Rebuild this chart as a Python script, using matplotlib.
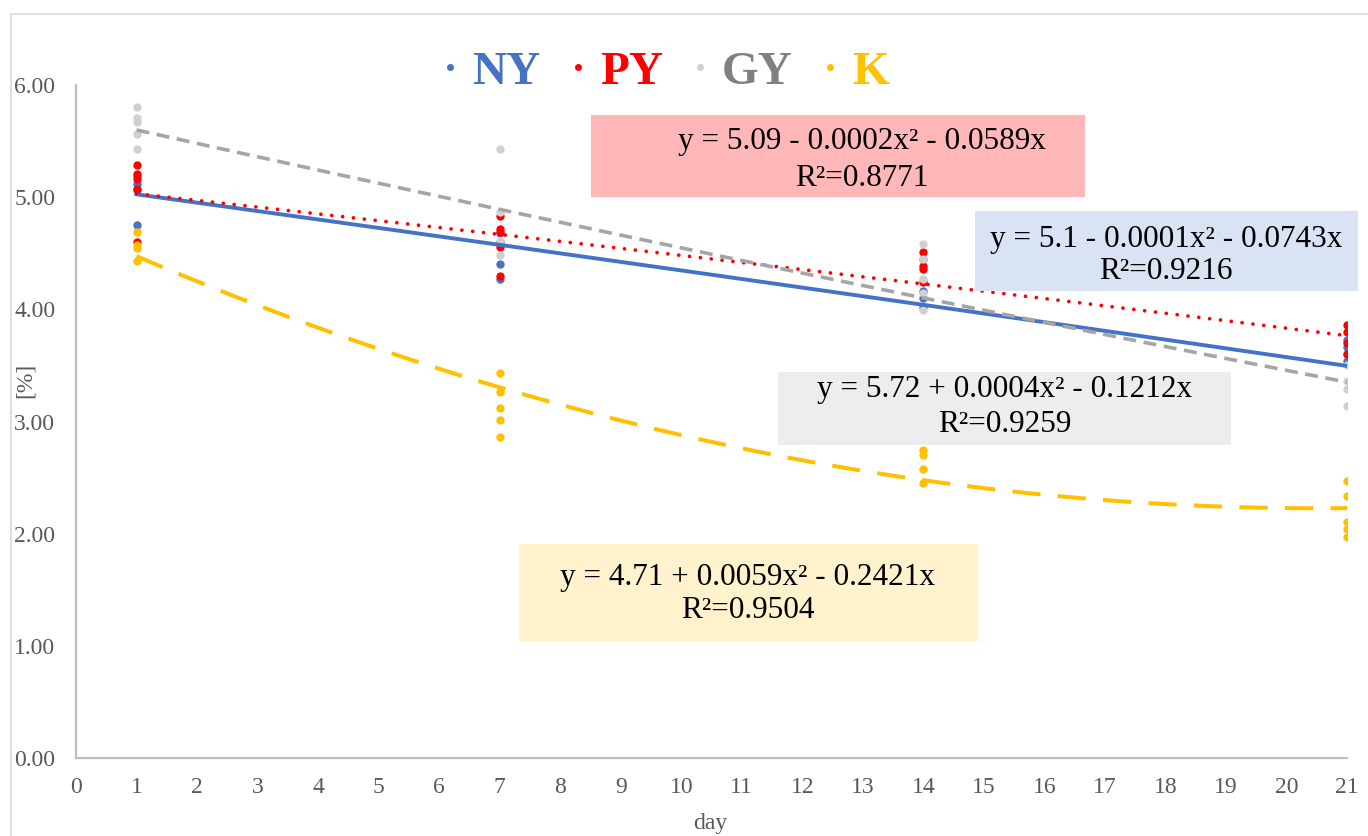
import numpy as np
import matplotlib.pyplot as plt
from matplotlib.patches import Rectangle
from matplotlib.lines import Line2D

plt.rcParams['font.family'] = ['Liberation Serif', 'DejaVu Serif']

# sampling days
days = [1, 7, 14, 21]

# measured values per day (one list per day)
ny = [[5.19, 5.12, 5.06, 4.75], [4.68, 4.60, 4.40, 4.27],
      [4.45, 4.16, 4.10, 4.02], [3.73, 3.66, 3.60, 3.54]]
py = [[5.29, 5.21, 5.16, 5.07, 4.60], [4.83, 4.72, 4.69, 4.56, 4.30],
      [4.51, 4.39, 4.36, 4.24], [3.86, 3.80, 3.70, 3.60]]
gy = [[5.80, 5.71, 5.67, 5.56, 5.43], [5.43, 4.87, 4.61, 4.48],
      [4.58, 4.45, 4.27, 4.15, 3.99], [3.50, 3.36, 3.29, 3.14]]
k = [[4.69, 4.57, 4.55, 4.43], [3.43, 3.26, 3.12, 3.01, 2.86],
     [2.75, 2.70, 2.58, 2.45], [2.47, 2.34, 2.10, 2.04, 1.97]]

# polynomial trend lines (c0, c2, c1) as printed on the chart
ny_fit = (5.1, -0.0001, -0.0743)
py_fit = (5.09, -0.0002, -0.0589)
gy_fit = (5.72, 0.0004, -0.1212)
k_fit = (4.71, 0.0059, -0.2421)

ny_eq = ["y = 5.1 - 0.0001x² - 0.0743x", "R²=0.9216"]
py_eq = ["y = 5.09 - 0.0002x² - 0.0589x", "R²=0.8771"]
gy_eq = ["y = 5.72 + 0.0004x² - 0.1212x", "R²=0.9259"]
k_eq = ["y = 4.71 + 0.0059x² - 0.2421x", "R²=0.9504"]

names = ['NY', 'PY', 'GY', 'K']

W, H = 1368, 836
fig = plt.figure(figsize=(W / 100, H / 100), dpi=100)
ax = fig.add_axes([76 / W, 1 - 758 / H, (1347 - 76) / W, (758 - 85) / H])

# chart area border (only left/top edges are visible)
fig.patches.append(Rectangle((11 / W, -0.1), 1.2, 1.1 - 14 / H, transform=fig.transFigure,
                             fill=False, ec='#D9D9D9', lw=1.2))


def scatter_series(vals, color):
    xs = [d for d, v in zip(days, vals) for _ in v]
    ys = [y for v in vals for y in v]
    ax.scatter(xs, ys, s=36, color=color, zorder=3, linewidths=0)


point_colors = ['#4472C4', '#FF0000', '#D0D0D0', '#FFC000']
text_colors = ['#4472C4', '#FF0000', '#808080', '#FFC000']
scatter_series(ny, point_colors[0])
scatter_series(py, point_colors[1])
scatter_series(gy, point_colors[2])
scatter_series(k, point_colors[3])

xx = np.linspace(1, 21, 300)


def trend(fit):
    c0, c2, c1 = fit
    return c0 + c2 * xx ** 2 + c1 * xx


ax.plot(xx, trend(ny_fit), color='#4472C4', lw=2.8, zorder=4)
ax.plot(xx, trend(py_fit), color='#FF0000', lw=2.7, dashes=(0.01, 2.9),
        dash_capstyle='round', zorder=4)
ax.plot(xx, trend(gy_fit), color='#A5A5A5', lw=2.6, dashes=(3.6, 2.1), zorder=4)
ax.plot(xx, trend(k_fit), color='#FFC000', lw=2.9, dashes=(7, 4.3), zorder=4)

ax.set_xlim(0, 21)
ax.set_ylim(0, 6)
ax.set_xticks(range(0, 22))
ax.set_yticks(range(0, 7))
ax.set_yticklabels([f'{v:.2f}' for v in range(0, 7)])
ax.tick_params(length=0, labelsize=17, labelcolor='#595959')
ax.tick_params(axis='y', pad=15)
ax.tick_params(axis='x', pad=14)
for s in ['top', 'right']:
    ax.spines[s].set_visible(False)
for s in ['left', 'bottom']:
    ax.spines[s].set_color('#BFBFBF')
    ax.spines[s].set_linewidth(1.6)

fig.text(710 / W, 1 - 824 / H, 'day', ha='center', va='center', fontsize=17, color='#595959')
fig.text(25 / W, 1 - 380 / H, '[%]', ha='center', va='center', fontsize=17,
         color='#595959', rotation=90)

# legend: small dot followed by big bold coloured name
leg_dot_x = [450, 578, 700, 830]
for name, px, pc, tc in zip(names, leg_dot_x, point_colors, text_colors):
    fig.lines.append(Line2D([px / W], [1 - 67 / H], transform=fig.transFigure, marker='o',
                            ls='none', ms=5, color=pc, mec='none'))
    fig.text((px + 22) / W, 1 - 84 / H, name, ha='left', va='baseline', fontsize=34,
             fontweight='bold', color=tc)

# equation boxes: (x0, y0, x1, y1) in pixels, fill colour, text lines, text centre
boxes = [((591, 115, 1085, 197), '#FFB7B7', py_eq, 862, (141, 178)),
         ((975, 211, 1358, 291), '#DAE3F3', ny_eq, 1166, (240, 272)),
         ((778, 372, 1231, 445), '#EDEDED', gy_eq, 1005, (390, 424)),
         ((519, 544, 978, 641), '#FFF2CC', k_eq, 748, (577, 610))]
for (x0, y0, x1, y1), fc, lines, tx, ty in boxes:
    fig.patches.append(Rectangle((x0 / W, 1 - y1 / H), (x1 - x0) / W, (y1 - y0) / H,
                                 transform=fig.transFigure, fc=fc, ec='none', zorder=5))
    for line, y in zip(lines, ty):
        fig.text(tx / W, 1 - y / H, line, ha='center', va='center', fontsize=22.5,
                 color='black', zorder=6)

fig.savefig('out.png', dpi=100)
